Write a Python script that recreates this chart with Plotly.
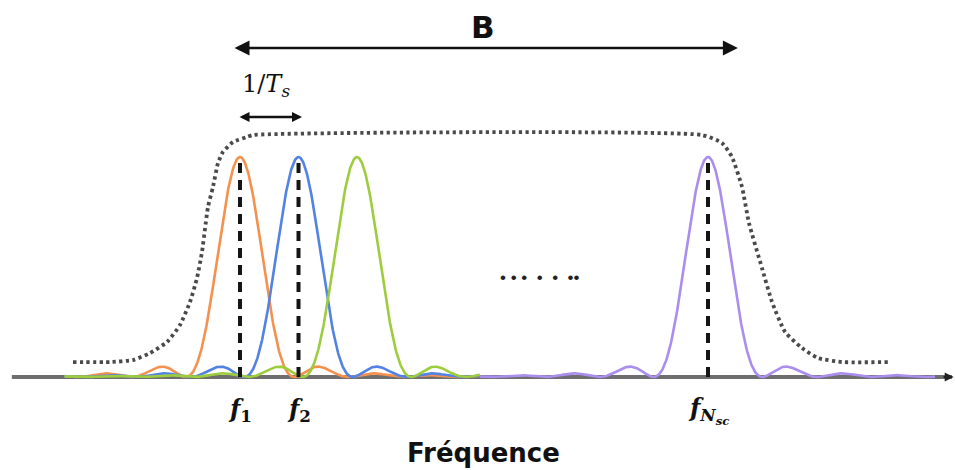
import numpy as np
import plotly.graph_objects as go

# ---------------- data ----------------
# subcarrier centre frequencies (in units of the subcarrier spacing 1/Ts)
carrier_freqs = [1.0, 2.0, 3.0, 9.0]
carrier_peaks = [1.0, 1.0, 1.0, 1.0]
carrier_colors = ["#F4914E", "#5282E3", "#9DCC3E", "#AA8DEC"]
lobe_halfwidth = 0.93  # first null of each sub-carrier spectrum

# marked sub-carriers and their labels
marked_freqs = [1.0, 2.0, 9.0]
tick_labels = [
    "<b><i>f</i></b><sub><b>1</b></sub>",
    "<b><i>f</i></b><sub><b>2</b></sub>",
    "<b><i>f</i></b><sub><b><i>N<sub>sc</sub></i></b></sub>",
]

# dotted spectral envelope
envelope_f = [-1.855, -1.222, -0.829, -0.538, -0.248, -0.026, 0.145, 0.265, 0.350,
              0.453, 0.538, 0.624, 0.709, 0.880, 1.120, 1.222, 8.897, 9.239, 9.410,
              9.581, 9.700, 9.923, 10.094, 10.316, 10.607, 10.880, 11.291, 12.077]
envelope_a = [0.068, 0.068, 0.077, 0.109, 0.159, 0.236, 0.341, 0.450, 0.568,
              0.773, 0.864, 0.973, 1.023, 1.068, 1.091, 1.100, 1.100, 1.064, 1.000,
              0.864, 0.700, 0.495, 0.341, 0.205, 0.132, 0.086, 0.068, 0.068]

# ---------------- figure ----------------
fig = go.Figure()

# frequency axis line
fig.add_trace(go.Scatter(x=[-2.9, 13.17], y=[0, 0], mode="lines",
                         line=dict(color="#6E6E6E", width=4), hoverinfo="skip"))

spans = [(-2.0, 5.1), (-2.0, 5.1), (-2.0, 5.1), (5.1, 12.88)]
for fc, pk, col, (lo, hi) in zip(carrier_freqs, carrier_peaks, carrier_colors, spans):
    f = np.linspace(lo, hi, 900)
    a = pk * np.sinc((f - fc) / lobe_halfwidth) ** 2
    fig.add_trace(go.Scatter(x=f, y=a, mode="lines",
                             line=dict(color=col, width=2.6), hoverinfo="skip"))

# envelope
fig.add_trace(go.Scatter(x=envelope_f, y=envelope_a, mode="lines",
                         line=dict(color="#4A4A4A", width=3.8, dash="3.2px,3.4px",
                                   shape="spline", smoothing=0.5),
                         hoverinfo="skip"))

# dashed markers at the labelled sub-carriers
for fc in marked_freqs:
    pk = carrier_peaks[carrier_freqs.index(fc)]
    fig.add_trace(go.Scatter(x=[fc, fc], y=[0, pk], mode="lines",
                             line=dict(color="#151515", width=4, dash="10px,7px"),
                             hoverinfo="skip"))

# tick labels
for fc, lab in zip(marked_freqs, tick_labels):
    fig.add_annotation(x=fc, y=-0.15, text=lab, showarrow=False,
                       font=dict(family="DejaVu Serif", size=24, color="#111"))

# axis title
fig.add_annotation(x=5.154, y=-0.345, text="<b>Fréquence</b>", showarrow=False,
                   font=dict(family="DejaVu Sans", size=26, color="#111"))

# bandwidth arrow B
fig.add_annotation(x=9.51, y=1.495, ax=0.88, ay=1.495, axref="x", ayref="y",
                   xref="x", yref="y", text="", showarrow=True, arrowhead=2,
                   arrowside="end+start", arrowwidth=2.5, arrowsize=1.2,
                   arrowcolor="#111", standoff=0, startstandoff=0)
fig.add_annotation(x=5.154, y=1.59, text="<b>B</b>", showarrow=False,
                   font=dict(family="DejaVu Sans", size=31, color="#111"))

# sub-carrier spacing arrow
fig.add_annotation(x=2.06, y=1.182, ax=0.966, ay=1.182, axref="x", ayref="y",
                   xref="x", yref="y", text="", showarrow=True, arrowhead=2,
                   arrowside="end+start", arrowwidth=2.5, arrowsize=0.8,
                   arrowcolor="#111", standoff=0, startstandoff=0)
fig.add_annotation(x=1.444, y=1.323, text="1/<i>T</i><sub><i>s</i></sub>", showarrow=False,
                   font=dict(family="DejaVu Serif", size=24, color="#111"))

# ellipsis between sub-carriers
fig.add_annotation(x=6.12, y=0.4545, text="• • •&nbsp; •&nbsp; •&nbsp; ••", showarrow=False,
                   font=dict(family="Liberation Sans", size=17, color="#222"))

# axis end arrow
fig.add_annotation(x=13.2, y=0, ax=13.0, ay=0, axref="x", ayref="y", xref="x", yref="y",
                   text="", showarrow=True, arrowhead=2, arrowwidth=2, arrowsize=0.9,
                   arrowcolor="#222")

fig.update_layout(
    width=955, height=470,
    margin=dict(l=0, r=0, t=0, b=0),
    paper_bgcolor="white", plot_bgcolor="white",
    showlegend=False,
    xaxis=dict(range=[-3.1026, 13.222], visible=False, fixedrange=True),
    yaxis=dict(range=[-0.4227, 1.7136], visible=False, fixedrange=True),
)

fig.write_html("out.html", config={"displayModeBar": False},
               post_script="document.body.style.margin='0px';")
